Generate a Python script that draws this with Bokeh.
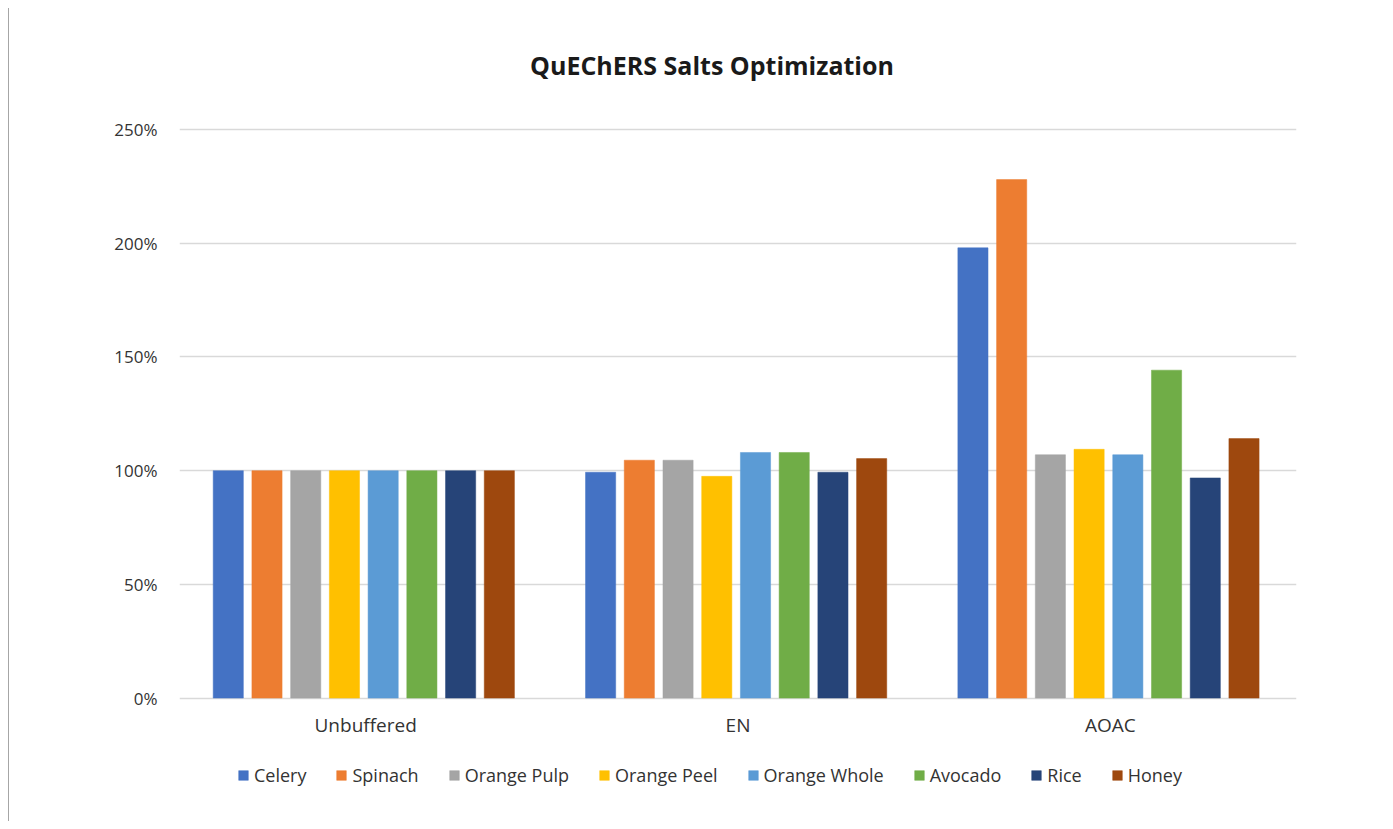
from bokeh.plotting import figure
from bokeh.models import ColumnDataSource, NumeralTickFormatter, FixedTicker, Legend, LegendItem
from bokeh.transform import dodge
from bokeh.embed import file_html
from bokeh.resources import INLINE

title_text = "QuEChERS Salts Optimization"
groups = ["Unbuffered", "EN", "AOAC"]
series = ["Celery", "Spinach", "Orange Pulp", "Orange Peel", "Orange Whole", "Avocado", "Rice", "Honey"]
colors = ["#4472C4", "#ED7D31", "#A5A5A5", "#FFC000", "#5B9BD5", "#70AD47", "#264478", "#9E480E"]

celery = [1.00, 0.993, 1.98]
spinach = [1.00, 1.046, 2.28]
orange_pulp = [1.00, 1.046, 1.07]
orange_peel = [1.00, 0.975, 1.094]
orange_whole = [1.00, 1.08, 1.07]
avocado = [1.00, 1.08, 1.442]
rice = [1.00, 0.993, 0.968]
honey = [1.00, 1.053, 1.141]
y_ticks = [0, 0.5, 1.0, 1.5, 2.0, 2.5]

values = [celery, spinach, orange_pulp, orange_peel, orange_whole, avocado, rice, honey]

data = {"group": groups, "label_y": [-0.119] * len(groups)}
keys = []
for i, v in enumerate(values):
    k = "s%d" % i
    keys.append(k)
    data[k] = v
src = ColumnDataSource(data)

FONT = "Open Sans"
TXT = "#333333"

p = figure(width=1377, height=813, x_range=groups, y_range=(-0.49, 2.8917),
           output_backend="svg", toolbar_location=None,
           min_border_left=170, min_border_right=90, min_border_top=32, min_border_bottom=12)
p.styles = {"border-left": "1px solid #a6a6a6", "margin-left": "8px", "margin-top": "8px"}
p.outline_line_color = None

step = 0.104
width = 0.081
renderers = []
for i, k in enumerate(keys):
    r = p.vbar(x=dodge("group", (i - 3.5) * step - 0.005, range=p.x_range), top=k, bottom=0, width=width,
               source=src, fill_color=colors[i], line_color=colors[i], line_width=0.5)
    renderers.append(r)

# category labels under the bars
p.text(x="group", y="label_y", text="group", source=src, text_align="center",
       text_baseline="middle", text_font_size="19px", text_color=TXT,
       text_font={"value": FONT})

# chart title
p.text(x=["EN"], y=[2.786], text=[title_text], x_offset=-26, text_align="center",
       text_baseline="middle", text_font_size="25px", text_font_style="bold",
       text_color="#1a1a1a", text_font={"value": FONT})

p.xaxis.visible = False
p.yaxis.ticker = FixedTicker(ticks=y_ticks)
p.yaxis.formatter = NumeralTickFormatter(format="0%")
p.yaxis.axis_line_color = None
p.yaxis.major_tick_line_color = None
p.yaxis.minor_tick_line_color = None
p.yaxis.major_label_text_font = FONT
p.yaxis.major_label_text_color = TXT
p.yaxis.major_label_text_font_size = "17px"
p.yaxis.major_label_standoff = 16

p.xgrid.grid_line_color = None
p.ygrid.ticker = FixedTicker(ticks=y_ticks)
p.ygrid.grid_line_color = "#d9d9d9"
p.ygrid.grid_line_width = 1.5

items = [LegendItem(label=s, renderers=[r]) for s, r in zip(series, renderers)]
legend = Legend(items=items, orientation="horizontal", location=(58, 22),
                label_text_font=FONT, label_text_font_size="18px", label_text_color=TXT,
                glyph_width=12, glyph_height=12, label_standoff=5, spacing=29,
                padding=0, margin=0, border_line_color=None, background_fill_alpha=0)
p.add_layout(legend, "center")

open("out.html", "w").write(file_html(p, INLINE))
